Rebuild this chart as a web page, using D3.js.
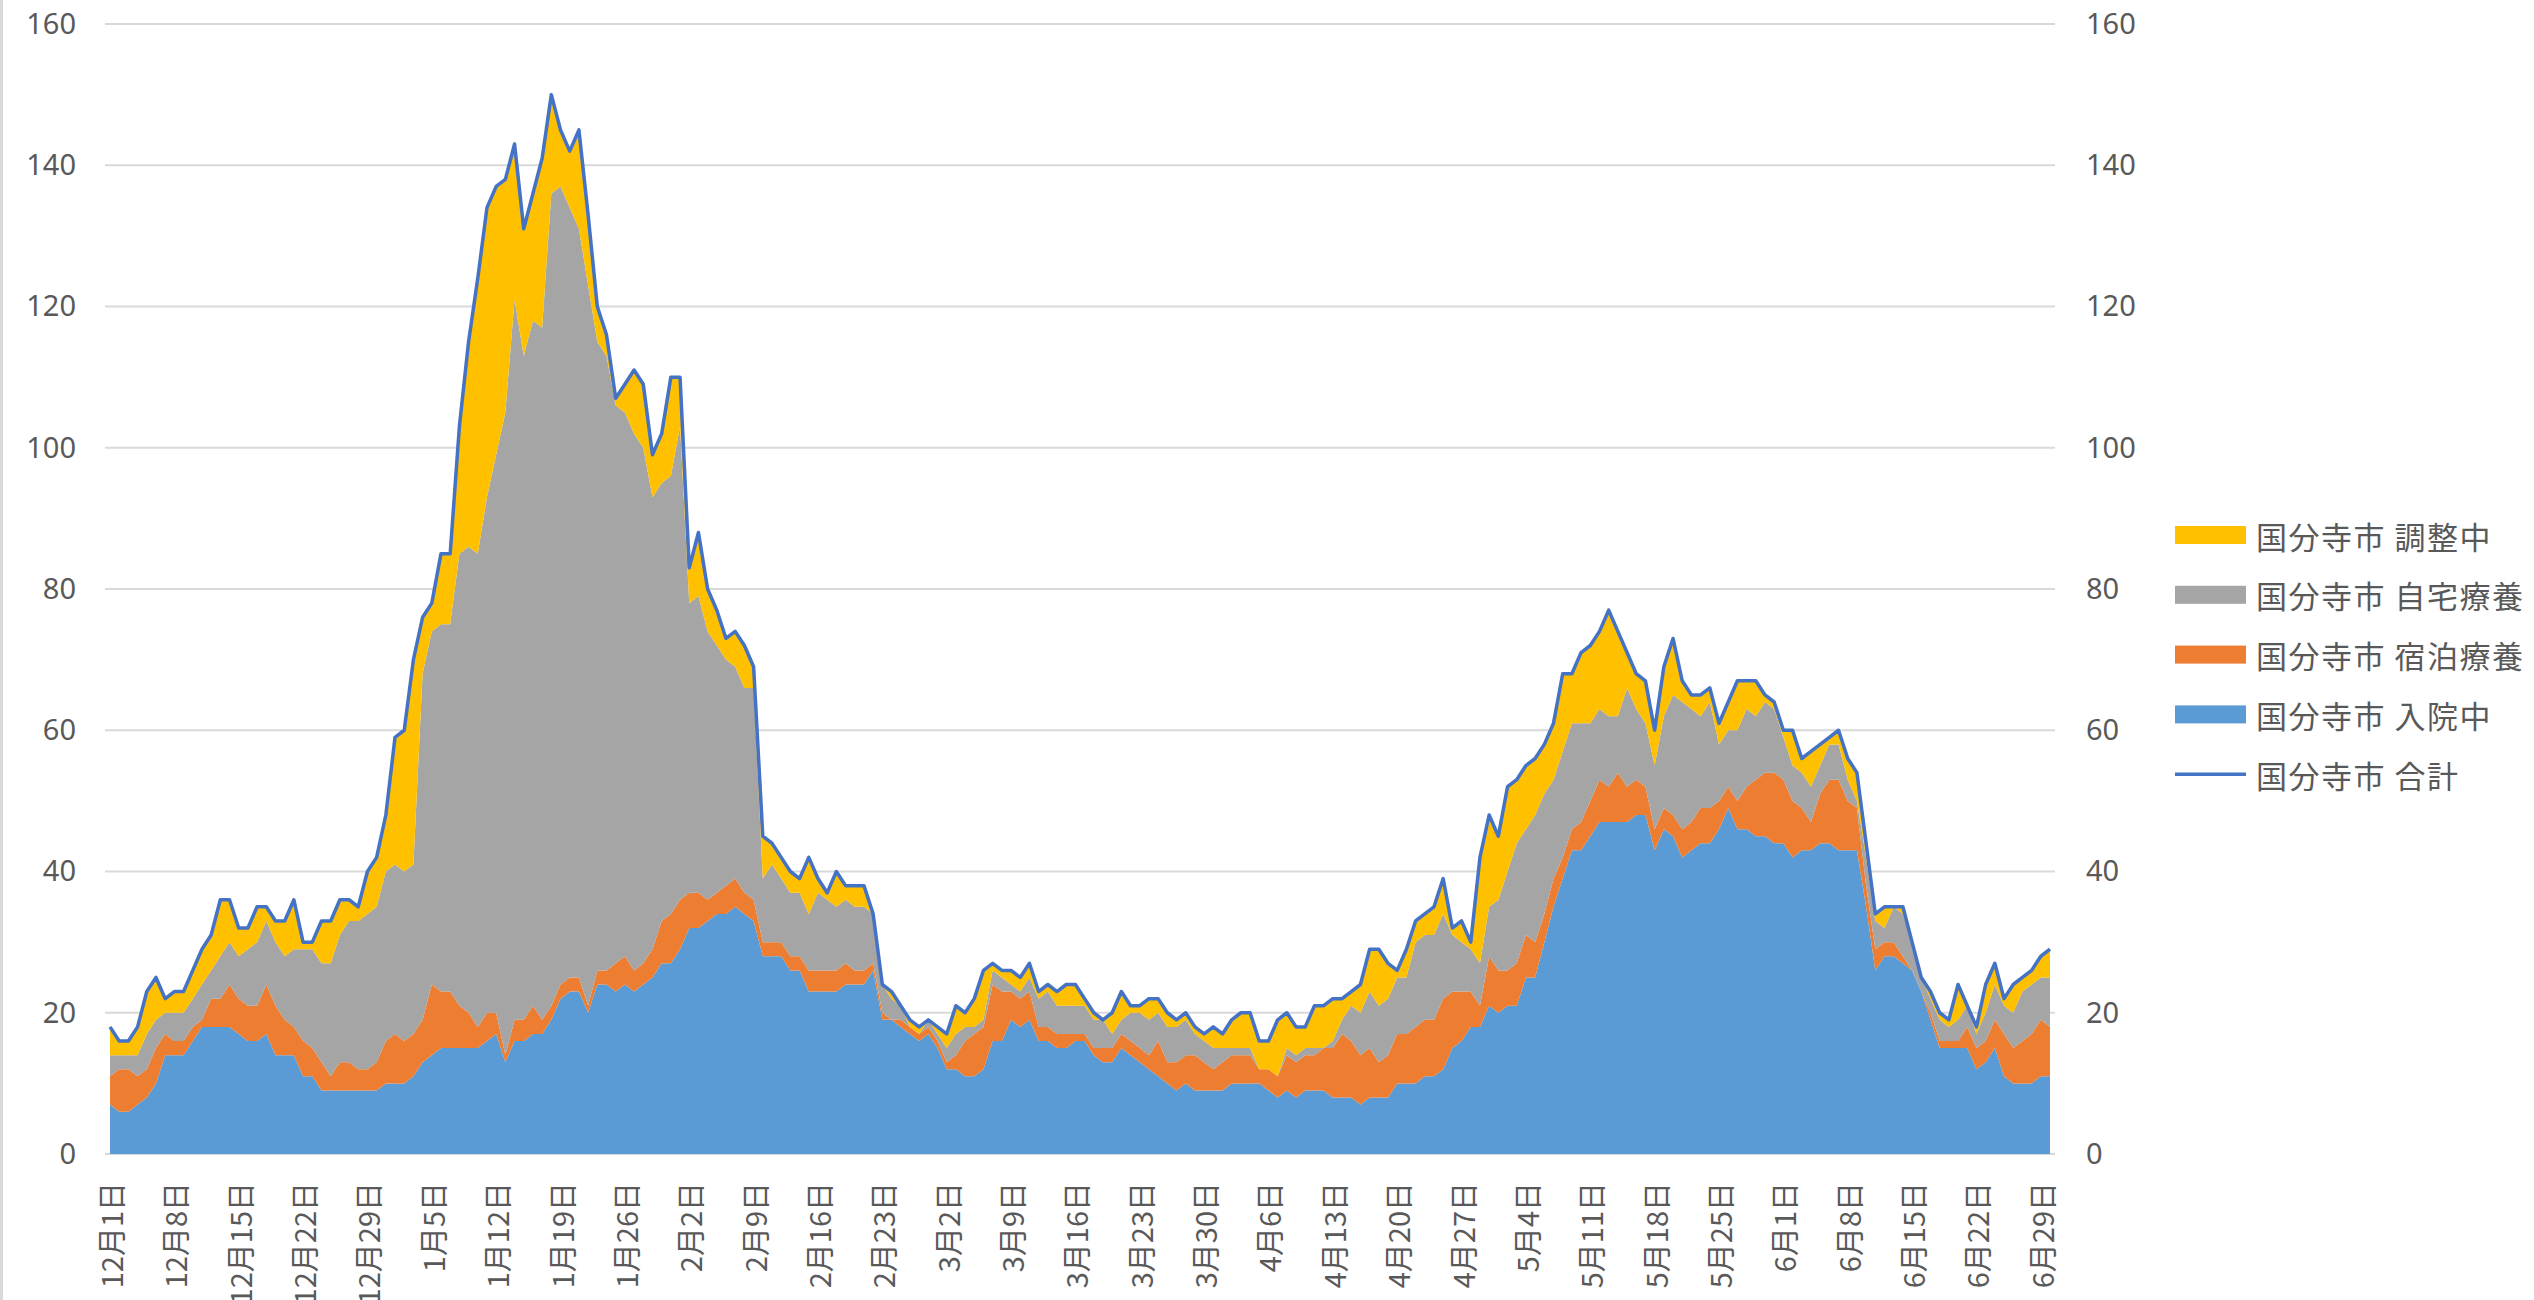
<!DOCTYPE html>
<html><head><meta charset="utf-8">
<script src="https://cdn.jsdelivr.net/npm/d3@7"></script>
<style>
html,body{margin:0;padding:0;background:#fff;}
svg{display:block;}
text{font-family:"Noto Sans CJK JP","Noto Sans",sans-serif;fill:#595959;}
</style></head>
<body><svg id="c" width="2534" height="1300"></svg>
<script>
// Series names (legend order top to bottom)
const seriesNames = ["国分寺市 調整中","国分寺市 自宅療養","国分寺市 宿泊療養","国分寺市 入院中","国分寺市 合計"];
// X tick labels (every 7 days from 12月1日)
const tickLabels = ["12月1日","12月8日","12月15日","12月22日","12月29日","1月5日","1月12日","1月19日","1月26日","2月2日","2月9日","2月16日","2月23日","3月2日","3月9日","3月16日","3月23日","3月30日","4月6日","4月13日","4月20日","4月27日","5月4日","5月11日","5月18日","5月25日","6月1日","6月8日","6月15日","6月22日","6月29日"];
const yTicks = [0,20,40,60,80,100,120,140,160];

// Daily values, 12/1 .. 6/30
const hospital = [7,6,6,7,8,10,14,14,14,16,18,18,18,18,17,16,16,17,14,14,14,11,11,9,9,9,9,9,9,9,
10,10,10,11,13,14,15,15,15,15,15,16,17,13,16,16,17,17,19,22,23,23,20,24,24,23,24,23,24,25,
27,27,29,32,32,33,34,34,35,34,33,28,28,28,26,26,23,23,23,23,24,24,24,26,19,19,18,17,16,17,
15,12,12,11,11,12,16,16,19,18,19,16,16,15,15,16,16,14,13,13,15,14,13,12,11,10,9,10,9,9,
9,9,10,10,10,10,9,8,9,8,9,9,9,8,8,8,7,8,8,8,10,10,10,11,11,12,15,16,18,18,
21,20,21,21,25,25,30,35,39,43,43,45,47,47,47,47,48,48,43,46,45,42,43,44,44,46,49,46,46,45,
45,44,44,42,43,43,44,44,43,43,43,35,26,28,28,27,26,23,19,15,15,15,15,12,13,15,11,10,10,10,
11,11];
const hotel = [4,6,6,4,4,5,3,2,2,2,1,4,4,6,5,5,5,7,7,5,4,5,4,4,2,4,4,3,3,4,
6,7,6,6,6,10,8,8,6,5,3,4,3,1,3,3,4,2,2,2,2,2,1,2,2,4,4,3,3,4,
6,7,7,5,5,3,3,4,4,3,3,2,2,2,2,2,3,3,3,3,3,2,2,1,1,0,1,1,1,1,
1,1,2,5,6,6,8,7,4,4,4,2,2,2,2,1,1,1,2,2,2,2,2,2,5,3,4,4,5,4,
3,4,4,4,4,2,3,3,5,5,5,5,6,7,9,8,7,7,5,6,7,7,8,8,8,10,8,7,5,3,
7,6,5,6,6,5,4,4,3,3,4,5,6,5,7,5,5,4,3,3,3,4,4,5,5,4,3,4,6,8,
9,10,9,8,6,4,7,9,10,7,6,3,3,2,2,1,0,0,1,1,1,1,3,3,3,4,6,5,6,7,
8,7];
const home = [3,2,2,3,5,4,3,4,4,4,5,4,6,6,6,8,9,9,9,9,11,13,14,14,16,18,20,21,22,22,
24,24,24,24,49,50,52,52,64,66,67,73,79,91,102,94,97,98,115,113,109,106,102,89,87,79,77,76,73,64,
62,62,67,41,42,38,35,32,30,29,30,9,11,9,9,9,8,11,10,9,9,9,9,7,4,3,2,0,0,1,
1,2,3,2,1,1,2,2,1,1,2,4,5,4,4,4,4,4,4,2,2,4,5,5,4,5,5,5,3,3,
3,2,1,1,1,0,0,0,1,1,1,1,0,1,2,5,6,8,8,8,8,8,12,12,12,12,8,7,6,6,
7,10,14,17,15,18,17,14,15,15,14,11,10,10,8,14,10,9,9,13,17,18,16,13,15,8,8,10,11,9,
10,9,6,5,5,5,4,5,5,3,1,4,4,2,5,6,4,2,2,3,2,3,3,2,4,5,4,5,7,7,
6,7];
const adjusting = [4,2,2,4,6,6,2,3,3,4,5,5,8,6,4,3,5,2,3,5,7,1,1,6,6,5,3,2,6,7,
8,18,20,29,8,4,10,10,18,29,39,41,38,33,22,18,18,24,14,8,8,14,10,5,3,1,4,9,9,6,
7,14,7,5,9,6,5,3,5,6,3,6,3,3,3,2,8,2,1,5,2,3,3,0,0,1,0,1,1,0,
1,2,4,2,4,7,1,1,2,2,2,1,1,2,3,3,1,1,0,3,4,1,1,3,2,2,1,1,1,1,
3,2,4,5,5,4,4,8,5,4,3,6,6,6,3,2,4,6,8,5,1,4,3,3,4,5,1,3,1,15,
13,9,12,9,9,8,7,8,11,7,10,11,11,15,12,5,5,6,5,7,8,3,2,3,2,3,4,7,4,5,
1,1,1,5,2,5,3,1,2,3,4,2,1,3,0,1,0,0,1,1,1,5,0,1,4,3,1,4,2,2,
3,4];
const total = [18,16,16,18,23,25,22,23,23,26,29,31,36,36,32,32,35,35,33,33,36,30,30,33,33,36,36,35,40,42,
48,59,60,70,76,78,85,85,103,115,124,134,137,138,143,131,136,141,150,145,142,145,133,120,116,107,109,111,109,99,
102,110,110,83,88,80,77,73,74,72,69,45,44,42,40,39,42,39,37,40,38,38,38,34,24,23,21,19,18,19,
18,17,21,20,22,26,27,26,26,25,27,23,24,23,24,24,22,20,19,20,23,21,21,22,22,20,19,20,18,17,
18,17,19,20,20,16,16,19,20,18,18,21,21,22,22,23,24,29,29,27,26,29,33,34,35,39,32,33,30,42,
48,45,52,53,55,56,58,61,68,68,71,72,74,77,74,71,68,67,60,69,73,67,65,65,66,61,64,67,67,67,
65,64,60,60,56,57,58,59,60,56,54,44,34,35,35,35,30,25,23,20,19,24,21,18,24,27,22,24,25,26,
28,29];

const colors = {"国分寺市 入院中":"#5b9bd5","国分寺市 宿泊療養":"#ed7d31","国分寺市 自宅療養":"#a5a5a5","国分寺市 調整中":"#ffc000","国分寺市 合計":"#4472c4"};

const svg = d3.select("#c");
svg.append("rect").attr("width",2534).attr("height",1300).attr("fill","#fff");
svg.append("rect").attr("x",0).attr("y",0).attr("width",3).attr("height",1300).attr("fill","#d9d9d9");

const n = total.length;
const x = d3.scaleLinear().domain([0, n-1]).range([110, 2050]);
const y = d3.scaleLinear().domain([0, 160]).range([1154, 24]);
const gridL = 105, gridR = 2055;

// gridlines
svg.append("g").selectAll("line").data(yTicks).join("line")
  .attr("x1",gridL).attr("x2",gridR).attr("y1",d=>y(d)).attr("y2",d=>y(d))
  .attr("stroke","#d9d9d9").attr("stroke-width",2);

// stacked areas
const rows = d3.range(n).map(i=>({i, h:hospital[i], o:hotel[i], m:home[i], a:adjusting[i]}));
const keys = ["h","o","m","a"];
const keyName = {h:"国分寺市 入院中",o:"国分寺市 宿泊療養",m:"国分寺市 自宅療養",a:"国分寺市 調整中"};
const stack = d3.stack().keys(keys)(rows);
const area = d3.area().x(d=>x(d.data.i)).y0(d=>y(d[0])).y1(d=>y(d[1]));
svg.append("g").selectAll("path").data(stack).join("path")
  .attr("d",area).attr("fill",s=>colors[keyName[s.key]]);

// total line
const line = d3.line().x((d,i)=>x(i)).y(d=>y(d));
svg.append("path").datum(total).attr("d",line).attr("fill","none")
  .attr("stroke",colors["国分寺市 合計"]).attr("stroke-width",3.5).attr("stroke-linejoin","round");

// left axis
const yl = svg.append("g").attr("transform",`translate(${gridL},0)`)
  .call(d3.axisLeft(y).tickValues(yTicks).tickSize(0).tickPadding(29));
yl.select(".domain").remove();
yl.selectAll("text").style("font-size","29px").style("fill","#595959")
  .style("font-family","'Noto Sans','Noto Sans CJK JP',sans-serif");
// right axis
const yr = svg.append("g").attr("transform",`translate(${gridR},0)`)
  .call(d3.axisRight(y).tickValues(yTicks).tickSize(0).tickPadding(31));
yr.select(".domain").remove();
yr.selectAll("text").style("font-size","29px").style("fill","#595959")
  .style("font-family","'Noto Sans','Noto Sans CJK JP',sans-serif");

// x labels
svg.append("g").selectAll("text").data(tickLabels).join("text")
  .attr("transform",(d,k)=>`translate(${x(k*7)},1182) rotate(-90)`)
  .attr("text-anchor","end").attr("dominant-baseline","central")
  .style("font-size","29px").text(d=>d);

// legend
const legY0 = 535, legStep = 59.8;
const lg = svg.append("g");
seriesNames.forEach((name,k)=>{
  const cy = legY0 + k*legStep;
  if (name === "国分寺市 合計") {
    lg.append("line").attr("x1",2175).attr("x2",2246).attr("y1",cy).attr("y2",cy)
      .attr("stroke",colors[name]).attr("stroke-width",3.5);
  } else {
    lg.append("rect").attr("x",2175).attr("y",cy-9).attr("width",71).attr("height",18).attr("fill",colors[name]);
  }
  lg.append("text").attr("x",2256).attr("y",cy).attr("dominant-baseline","central")
    .style("font-size","31px").style("letter-spacing","1.5px").text(name);
});
</script></body></html>
